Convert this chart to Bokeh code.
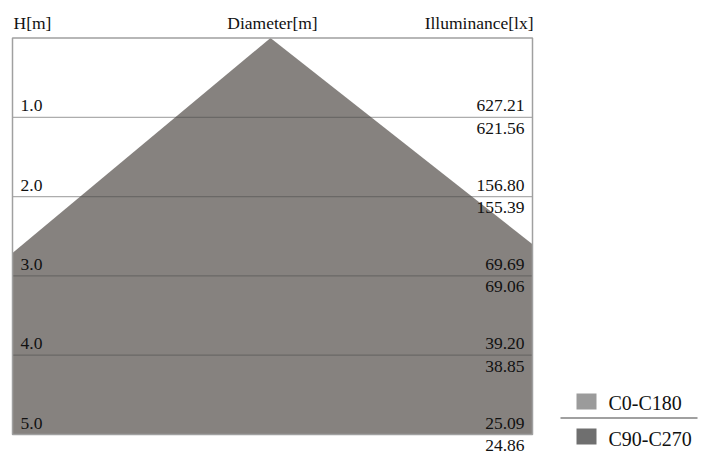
import numpy as np
from bokeh.plotting import figure
from bokeh.models import Range1d
from bokeh.core.properties import value
from bokeh.embed import file_html
from bokeh.resources import INLINE

# ---------------- data ----------------
heights = [1.0, 2.0, 3.0, 4.0, 5.0]                 # H [m]
diam_c0_c180 = [2.40, 4.80, 7.20, 9.60, 12.00]      # beam diameter [m]
diam_c90_c270 = [2.54, 5.08, 7.62, 10.16, 12.70]    # beam diameter [m]
lux_c0_c180 = [627.21, 156.80, 69.69, 39.20, 25.09]
lux_c90_c270 = [621.56, 155.39, 69.06, 38.85, 24.86]
series_names = ["C0-C180", "C90-C270"]
headers = ["H[m]", "Diameter[m]", "Illuminance[lx]"]

# ---------------- layout (pixels) ----------------
W, HGT = 703, 455
S = 79.3                 # pixels per metre
BOX_L, BOX_R, BOX_T = 12.0, 532.0, 37.5
APEX = 270.0
TSH = 6.0                # text baseline correction (px up)
x_min = -(APEX - BOX_L) / S
x_max = (BOX_R - APEX) / S
h_max = heights[-1]


def px_x(px):
    return x_min + (px - BOX_L) / S


def px_y(py):
    return (py - BOX_T) / S


FONT = value("Liberation Serif")
FILL = "#86827f"
TXT = "#111111"
SWATCH = ["#9b9b9b", "#6f6f6f"]
FS = value("17.5px")

p = figure(width=W, height=HGT,
           x_range=Range1d(px_x(0), px_x(W)),
           y_range=Range1d(px_y(HGT), px_y(0)),
           x_axis_location=None, y_axis_location=None,
           output_backend="svg", toolbar_location=None, min_border=0)
p.grid.visible = False
p.outline_line_color = None
p.background_fill_color = "white"
p.border_fill_color = "white"


def edge_height(diams, edge):
    hw = np.array([0.0] + [d / 2 for d in diams])
    hh = np.array([0.0] + heights)
    return float(np.interp(abs(edge), hw, hh))


# one polygon: left half from C0-C180, right half from C90-C270
h_left = edge_height(diam_c0_c180, x_min)
h_right = edge_height(diam_c90_c270, x_max)
cone_x = [0.0, x_max, x_max, x_min, x_min]
cone_y = [0.0, h_right, h_max, h_max, h_left]
p.patch(cone_x, cone_y, fill_color=FILL, line_color=None)

# horizontal height lines
p.segment(x0=[x_min] * len(heights), x1=[x_max] * len(heights),
          y0=heights, y1=heights, line_color="#4a4a4a", line_alpha=0.45, line_width=1.2)
# box
p.quad(left=[x_min], right=[x_max], top=[0.0], bottom=[h_max],
       fill_color=None, line_color="#a0a0a0", line_width=1.5)

# headers
for txt, px, al in zip(headers, [13, 272, 533], ["left", "center", "right"]):
    p.text(x=[px_x(px)], y=[px_y(28 - TSH)], text=[txt], text_font=FONT,
           text_font_size=FS, text_color=TXT, text_align=al,
           text_baseline="alphabetic")

# row labels
up = (5.5 + TSH) / S
down = (17.0 - TSH) / S
p.text(x=[x_min + 8 / S] * len(heights), y=[h - up for h in heights],
       text=[f"{h:.1f}" for h in heights], text_font=FONT,
       text_font_size=FS, text_color=TXT, text_align="left",
       text_baseline="alphabetic")
p.text(x=[x_max - 8 / S] * len(heights), y=[h - up for h in heights],
       text=[f"{v:.2f}" for v in lux_c0_c180], text_font=FONT,
       text_font_size=FS, text_color=TXT, text_align="right",
       text_baseline="alphabetic")
p.text(x=[x_max - 8 / S] * len(heights), y=[h + down for h in heights],
       text=[f"{v:.2f}" for v in lux_c90_c270], text_font=FONT,
       text_font_size=FS, text_color=TXT, text_align="right",
       text_baseline="alphabetic")

# legend
p.quad(left=[px_x(576)] * 2, right=[px_x(596)] * 2,
       top=[px_y(393), px_y(428)], bottom=[px_y(409), px_y(444)],
       fill_color=SWATCH, line_color=None)
p.text(x=[px_x(608)] * 2, y=[px_y(408 - TSH), px_y(444 - TSH)], text=series_names,
       text_font=FONT, text_font_size=value("20px"), text_color=TXT,
       text_align="left", text_baseline="alphabetic")
p.segment(x0=[px_x(560)], x1=[px_x(697)], y0=[px_y(417.5)], y1=[px_y(417.5)],
          line_color="#a0a0a0", line_width=2)

open("out.html", "w").write(file_html(p, INLINE))
